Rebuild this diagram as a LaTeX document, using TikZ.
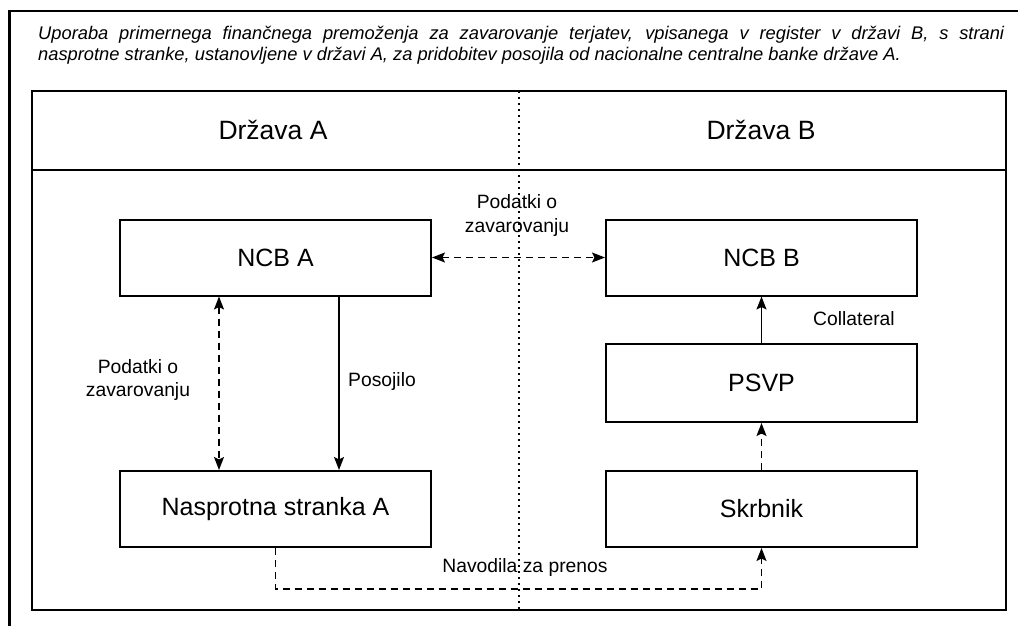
\documentclass[tikz,border=0pt]{standalone}
\usepackage{fontspec}
\setmainfont{Liberation Sans}
\usetikzlibrary{arrows.meta}

\begin{document}
\begin{tikzpicture}[x=1pt,y=-1pt,
    >={Stealth[length=13pt,width=10pt,inset=2.5pt]},
    frame/.style={line width=2.2pt},
    box/.style={draw, line width=2pt, minimum width=311pt, minimum height=76pt, inner sep=0pt, font=\fontsize{25}{29}\selectfont},
    lbl/.style={font=\fontsize{19.3}{23.5}\selectfont, align=center, inner sep=0pt},
    flow/.style={line width=1.4pt, ->},
    dflow/.style={flow, dash pattern=on 7pt off 5pt},
    heading/.style={anchor=base west, inner sep=0pt, font=\fontsize{18.3}{21}\selectfont\itshape},
]
\useasboundingbox (0,0) rectangle (1018,626);

% frames
\draw[frame] (9.5,626) -- (9.5,11) -- (1018,11);
\draw[frame] (32,91) rectangle (1006,610);
\draw[frame] (32,170) -- (1006,170);
\draw[line width=1.4pt, dash pattern=on 1.6pt off 4.4pt] (519,91) -- (519,610);

% title
\node[heading] (title1) at (38,40)
  {\makebox[966pt][s]{Uporaba primernega finančnega premoženja za zavarovanje terjatev, vpisanega v register v državi B, s strani}};
\node[heading] (title2) at (38,61)
  {nasprotne stranke, ustanovljene v državi A, za pridobitev posojila od nacionalne centralne banke države A.};

\node[font=\fontsize{26.5}{30}\selectfont] (stateA) at (273,130) {Država A};
\node[font=\fontsize{26.5}{30}\selectfont] (stateB) at (761,130) {Država B};

% boxes
\node[box] (ncbA) at (275.5,257.5) {NCB A};
\node[box] (ncbB) at (761.5,257.5) {NCB B};
\node[box, minimum height=78pt] (psvp) at (761.5,383) {PSVP};
\node[box] (nasA) at (275.5,509) {Nasprotna stranka A};
\node[box] (skrb) at (761.5,509) {Skrbnik};

% connectors
\draw[dflow, <->] (ncbA) -- (ncbB);
\draw[dflow, <->] ([xshift=-56.5pt]ncbA.south) -- ([xshift=-56.5pt]nasA.north);
\draw[flow] ([xshift=63.5pt]ncbA.south) -- ([xshift=63.5pt]nasA.north);
\draw[flow] (psvp) -- (ncbB);
\draw[dflow] (skrb) -- (psvp);
\draw[dflow] (nasA.south) -- ++(0,41) -| (skrb.south);

% labels
\node[lbl] (infoAB) at (517,215.5) {Podatki o\\zavarovanju};
\node[lbl] (infoA) at (138,380) {Podatki o\\zavarovanju};
\node[lbl, anchor=west] (loan) at (348,382) {Posojilo};
\node[lbl, anchor=west] (coll) at (813,319) {Collateral};
\node[lbl] (instr) at (525,568) {Navodila za prenos};

\end{tikzpicture}
\end{document}
